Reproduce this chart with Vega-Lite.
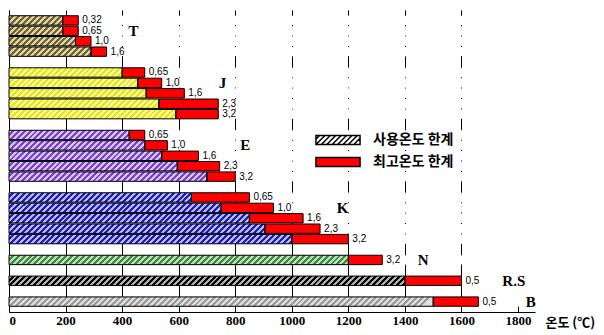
{
  "$schema": "https://vega.github.io/schema/vega-lite/v6.json",
  "width": 526,
  "height": 302,
  "autosize": {"type": "none"},
  "padding": {"left": 9, "top": 10, "right": 69, "bottom": 23},
  "background": "white",
  "config": {"view": {"stroke": null}},
  "data": {"values": [
    {"type":"T","row":"T-0.32","dia":"0,32","use":190,"max":245},
    {"type":"T","row":"T-0.65","dia":"0,65","use":190,"max":245},
    {"type":"T","row":"T-1.0","dia":"1,0","use":235,"max":290},
    {"type":"T","row":"T-1.6","dia":"1,6","use":290,"max":345},
    {"type":"J","row":"J-0.65","dia":"0,65","use":400,"max":480},
    {"type":"J","row":"J-1.0","dia":"1,0","use":455,"max":540},
    {"type":"J","row":"J-1.6","dia":"1,6","use":485,"max":620},
    {"type":"J","row":"J-2.3","dia":"2,3","use":530,"max":740},
    {"type":"J","row":"J-3.2","dia":"3,2","use":590,"max":740},
    {"type":"E","row":"E-0.65","dia":"0,65","use":425,"max":480},
    {"type":"E","row":"E-1.0","dia":"1,0","use":480,"max":560},
    {"type":"E","row":"E-1.6","dia":"1,6","use":540,"max":670},
    {"type":"E","row":"E-2.3","dia":"2,3","use":595,"max":745},
    {"type":"E","row":"E-3.2","dia":"3,2","use":700,"max":800},
    {"type":"K","row":"K-0.65","dia":"0,65","use":645,"max":850},
    {"type":"K","row":"K-1.0","dia":"1,0","use":750,"max":935},
    {"type":"K","row":"K-1.6","dia":"1,6","use":850,"max":1040},
    {"type":"K","row":"K-2.3","dia":"2,3","use":905,"max":1100},
    {"type":"K","row":"K-3.2","dia":"3,2","use":1000,"max":1200},
    {"type":"N","row":"N-3.2","dia":"3,2","use":1200,"max":1320},
    {"type":"R.S","row":"RS-0.5","dia":"0,5","use":1400,"max":1600},
    {"type":"B","row":"B-0.5","dia":"0,5","use":1500,"max":1660}
  ]},
  "encoding": {
    "y": {
      "field": "row", "type": "nominal",
      "scale": {
        "domain": ["T-0.32","T-0.65","T-1.0","T-1.6","gap1","J-0.65","J-1.0","J-1.6","J-2.3","J-3.2","gap2","E-0.65","E-1.0","E-1.6","E-2.3","E-3.2","gap3","K-0.65","K-1.0","K-1.6","K-2.3","K-3.2","gap4","N-3.2","gap5","RS-0.5","gap6","B-0.5"],
        "paddingInner": 0.1, "paddingOuter": 0.55
      },
      "axis": {"labels": false, "ticks": false, "title": null, "grid": false, "domain": true, "domainColor": "black", "domainWidth": 1}
    }
  },
  "layer": [
    {
      "mark": {"type": "bar", "fill": "white"},
      "encoding": {
        "x": {"datum": 0, "type": "quantitative"},
        "x2": {"datum": 1860}
      }
    },
    {
      "mark": {"type": "bar"},
      "encoding": {
        "x": {
          "field": "use", "type": "quantitative",
          "scale": {"domain": [0, 1860], "nice": false, "zero": true},
          "axis": {
            "title": "온도 (℃)",
            "values": [0,200,400,600,800,1000,1200,1400,1600,1800],
            "format": "d",
            "grid": true, "gridColor": "black", "gridWidth": 1,
            "gridOpacity": {"condition": {"test": "datum.value >= 1800", "value": 0}, "value": 1},
            "domainColor": "black", "domainWidth": 1,
            "ticks": true, "tickSize": -6, "tickColor": "black",
            "labelFont": "Liberation Serif", "labelFontWeight": "bold", "labelFontSize": 13, "labelColor": "black",
            "labelPadding": 8, "labelBaseline": "top",
            "titleFont": "Noto Sans CJK KR", "titleFontWeight": "bold", "titleFontSize": 13, "titleColor": "black",
            "titleX": 536, "titleY": 10, "titleAlign": "left", "titleBaseline": "middle", "titleAngle": 0
          }
        },
        "fill": {
          "field": "type", "type": "nominal",
          "scale": {"domain": ["T","J","E","K","N","R.S","B"], "range": ["#76641A","#E8E800","#7B3FD2","#1C1CC0","#3A8A3A","#000000","#9A9A9A"]},
          "legend": null
        }
      }
    },
    {
      "mark": {"type": "bar", "fill": {"gradient": "linear", "x1": 0, "y1": 0, "x2": 1, "y2": 0.0221, "stops": [
{"offset":0,"color":"#fff"},{"offset":0.007,"color":"#fff"},{"offset":0.007,"color":"#fff0"},{"offset":0.014,"color":"#fff0"},
{"offset":0.014,"color":"#fff"},{"offset":0.021,"color":"#fff"},{"offset":0.021,"color":"#fff0"},{"offset":0.028,"color":"#fff0"},
{"offset":0.028,"color":"#fff"},{"offset":0.035,"color":"#fff"},{"offset":0.035,"color":"#fff0"},{"offset":0.042,"color":"#fff0"},
{"offset":0.042,"color":"#fff"},{"offset":0.049,"color":"#fff"},{"offset":0.049,"color":"#fff0"},{"offset":0.056,"color":"#fff0"},
{"offset":0.056,"color":"#fff"},{"offset":0.063,"color":"#fff"},{"offset":0.063,"color":"#fff0"},{"offset":0.07,"color":"#fff0"},
{"offset":0.07,"color":"#fff"},{"offset":0.077,"color":"#fff"},{"offset":0.077,"color":"#fff0"},{"offset":0.084,"color":"#fff0"},
{"offset":0.084,"color":"#fff"},{"offset":0.091,"color":"#fff"},{"offset":0.091,"color":"#fff0"},{"offset":0.098,"color":"#fff0"},
{"offset":0.098,"color":"#fff"},{"offset":0.105,"color":"#fff"},{"offset":0.105,"color":"#fff0"},{"offset":0.112,"color":"#fff0"},
{"offset":0.112,"color":"#fff"},{"offset":0.119,"color":"#fff"},{"offset":0.119,"color":"#fff0"},{"offset":0.126,"color":"#fff0"},
{"offset":0.126,"color":"#fff"},{"offset":0.133,"color":"#fff"},{"offset":0.133,"color":"#fff0"},{"offset":0.14,"color":"#fff0"},
{"offset":0.14,"color":"#fff"},{"offset":0.147,"color":"#fff"},{"offset":0.147,"color":"#fff0"},{"offset":0.154,"color":"#fff0"},
{"offset":0.154,"color":"#fff"},{"offset":0.161,"color":"#fff"},{"offset":0.161,"color":"#fff0"},{"offset":0.168,"color":"#fff0"},
{"offset":0.168,"color":"#fff"},{"offset":0.175,"color":"#fff"},{"offset":0.175,"color":"#fff0"},{"offset":0.182,"color":"#fff0"},
{"offset":0.182,"color":"#fff"},{"offset":0.189,"color":"#fff"},{"offset":0.189,"color":"#fff0"},{"offset":0.196,"color":"#fff0"},
{"offset":0.196,"color":"#fff"},{"offset":0.203,"color":"#fff"},{"offset":0.203,"color":"#fff0"},{"offset":0.21,"color":"#fff0"},
{"offset":0.21,"color":"#fff"},{"offset":0.217,"color":"#fff"},{"offset":0.217,"color":"#fff0"},{"offset":0.224,"color":"#fff0"},
{"offset":0.224,"color":"#fff"},{"offset":0.231,"color":"#fff"},{"offset":0.231,"color":"#fff0"},{"offset":0.238,"color":"#fff0"},
{"offset":0.238,"color":"#fff"},{"offset":0.245,"color":"#fff"},{"offset":0.245,"color":"#fff0"},{"offset":0.252,"color":"#fff0"},
{"offset":0.252,"color":"#fff"},{"offset":0.259,"color":"#fff"},{"offset":0.259,"color":"#fff0"},{"offset":0.266,"color":"#fff0"},
{"offset":0.266,"color":"#fff"},{"offset":0.273,"color":"#fff"},{"offset":0.273,"color":"#fff0"},{"offset":0.28,"color":"#fff0"},
{"offset":0.28,"color":"#fff"},{"offset":0.287,"color":"#fff"},{"offset":0.287,"color":"#fff0"},{"offset":0.294,"color":"#fff0"},
{"offset":0.294,"color":"#fff"},{"offset":0.301,"color":"#fff"},{"offset":0.301,"color":"#fff0"},{"offset":0.308,"color":"#fff0"},
{"offset":0.308,"color":"#fff"},{"offset":0.315,"color":"#fff"},{"offset":0.315,"color":"#fff0"},{"offset":0.322,"color":"#fff0"},
{"offset":0.322,"color":"#fff"},{"offset":0.329,"color":"#fff"},{"offset":0.329,"color":"#fff0"},{"offset":0.336,"color":"#fff0"},
{"offset":0.336,"color":"#fff"},{"offset":0.343,"color":"#fff"},{"offset":0.343,"color":"#fff0"},{"offset":0.35,"color":"#fff0"},
{"offset":0.35,"color":"#fff"},{"offset":0.357,"color":"#fff"},{"offset":0.357,"color":"#fff0"},{"offset":0.364,"color":"#fff0"},
{"offset":0.364,"color":"#fff"},{"offset":0.371,"color":"#fff"},{"offset":0.371,"color":"#fff0"},{"offset":0.378,"color":"#fff0"},
{"offset":0.378,"color":"#fff"},{"offset":0.385,"color":"#fff"},{"offset":0.385,"color":"#fff0"},{"offset":0.392,"color":"#fff0"},
{"offset":0.392,"color":"#fff"},{"offset":0.399,"color":"#fff"},{"offset":0.399,"color":"#fff0"},{"offset":0.406,"color":"#fff0"},
{"offset":0.406,"color":"#fff"},{"offset":0.413,"color":"#fff"},{"offset":0.413,"color":"#fff0"},{"offset":0.42,"color":"#fff0"},
{"offset":0.42,"color":"#fff"},{"offset":0.427,"color":"#fff"},{"offset":0.427,"color":"#fff0"},{"offset":0.434,"color":"#fff0"},
{"offset":0.434,"color":"#fff"},{"offset":0.441,"color":"#fff"},{"offset":0.441,"color":"#fff0"},{"offset":0.448,"color":"#fff0"},
{"offset":0.448,"color":"#fff"},{"offset":0.455,"color":"#fff"},{"offset":0.455,"color":"#fff0"},{"offset":0.462,"color":"#fff0"},
{"offset":0.462,"color":"#fff"},{"offset":0.469,"color":"#fff"},{"offset":0.469,"color":"#fff0"},{"offset":0.476,"color":"#fff0"},
{"offset":0.476,"color":"#fff"},{"offset":0.483,"color":"#fff"},{"offset":0.483,"color":"#fff0"},{"offset":0.49,"color":"#fff0"},
{"offset":0.49,"color":"#fff"},{"offset":0.497,"color":"#fff"},{"offset":0.497,"color":"#fff0"},{"offset":0.504,"color":"#fff0"},
{"offset":0.504,"color":"#fff"},{"offset":0.511,"color":"#fff"},{"offset":0.511,"color":"#fff0"},{"offset":0.518,"color":"#fff0"},
{"offset":0.518,"color":"#fff"},{"offset":0.525,"color":"#fff"},{"offset":0.525,"color":"#fff0"},{"offset":0.532,"color":"#fff0"},
{"offset":0.532,"color":"#fff"},{"offset":0.539,"color":"#fff"},{"offset":0.539,"color":"#fff0"},{"offset":0.546,"color":"#fff0"},
{"offset":0.546,"color":"#fff"},{"offset":0.553,"color":"#fff"},{"offset":0.553,"color":"#fff0"},{"offset":0.56,"color":"#fff0"},
{"offset":0.56,"color":"#fff"},{"offset":0.567,"color":"#fff"},{"offset":0.567,"color":"#fff0"},{"offset":0.574,"color":"#fff0"},
{"offset":0.574,"color":"#fff"},{"offset":0.581,"color":"#fff"},{"offset":0.581,"color":"#fff0"},{"offset":0.588,"color":"#fff0"},
{"offset":0.588,"color":"#fff"},{"offset":0.595,"color":"#fff"},{"offset":0.595,"color":"#fff0"},{"offset":0.602,"color":"#fff0"},
{"offset":0.602,"color":"#fff"},{"offset":0.609,"color":"#fff"},{"offset":0.609,"color":"#fff0"},{"offset":0.616,"color":"#fff0"},
{"offset":0.616,"color":"#fff"},{"offset":0.623,"color":"#fff"},{"offset":0.623,"color":"#fff0"},{"offset":0.63,"color":"#fff0"},
{"offset":0.63,"color":"#fff"},{"offset":0.637,"color":"#fff"},{"offset":0.637,"color":"#fff0"},{"offset":0.644,"color":"#fff0"},
{"offset":0.644,"color":"#fff"},{"offset":0.651,"color":"#fff"},{"offset":0.651,"color":"#fff0"},{"offset":0.658,"color":"#fff0"},
{"offset":0.658,"color":"#fff"},{"offset":0.665,"color":"#fff"},{"offset":0.665,"color":"#fff0"},{"offset":0.672,"color":"#fff0"},
{"offset":0.672,"color":"#fff"},{"offset":0.679,"color":"#fff"},{"offset":0.679,"color":"#fff0"},{"offset":0.686,"color":"#fff0"},
{"offset":0.686,"color":"#fff"},{"offset":0.693,"color":"#fff"},{"offset":0.693,"color":"#fff0"},{"offset":0.7,"color":"#fff0"},
{"offset":0.7,"color":"#fff"},{"offset":0.707,"color":"#fff"},{"offset":0.707,"color":"#fff0"},{"offset":0.714,"color":"#fff0"},
{"offset":0.714,"color":"#fff"},{"offset":0.721,"color":"#fff"},{"offset":0.721,"color":"#fff0"},{"offset":0.728,"color":"#fff0"},
{"offset":0.728,"color":"#fff"},{"offset":0.735,"color":"#fff"},{"offset":0.735,"color":"#fff0"},{"offset":0.742,"color":"#fff0"},
{"offset":0.742,"color":"#fff"},{"offset":0.749,"color":"#fff"},{"offset":0.749,"color":"#fff0"},{"offset":0.756,"color":"#fff0"},
{"offset":0.756,"color":"#fff"},{"offset":0.763,"color":"#fff"},{"offset":0.763,"color":"#fff0"},{"offset":0.77,"color":"#fff0"},
{"offset":0.77,"color":"#fff"},{"offset":0.777,"color":"#fff"},{"offset":0.777,"color":"#fff0"},{"offset":0.784,"color":"#fff0"},
{"offset":0.784,"color":"#fff"},{"offset":0.791,"color":"#fff"},{"offset":0.791,"color":"#fff0"},{"offset":0.798,"color":"#fff0"},
{"offset":0.798,"color":"#fff"},{"offset":0.805,"color":"#fff"},{"offset":0.805,"color":"#fff0"},{"offset":0.812,"color":"#fff0"},
{"offset":0.812,"color":"#fff"},{"offset":0.819,"color":"#fff"},{"offset":0.819,"color":"#fff0"},{"offset":0.826,"color":"#fff0"},
{"offset":0.826,"color":"#fff"},{"offset":0.833,"color":"#fff"},{"offset":0.833,"color":"#fff0"},{"offset":0.84,"color":"#fff0"},
{"offset":0.84,"color":"#fff"},{"offset":0.847,"color":"#fff"},{"offset":0.847,"color":"#fff0"},{"offset":0.854,"color":"#fff0"},
{"offset":0.854,"color":"#fff"},{"offset":0.861,"color":"#fff"},{"offset":0.861,"color":"#fff0"},{"offset":0.868,"color":"#fff0"},
{"offset":0.868,"color":"#fff"},{"offset":0.875,"color":"#fff"},{"offset":0.875,"color":"#fff0"},{"offset":0.882,"color":"#fff0"},
{"offset":0.882,"color":"#fff"},{"offset":0.889,"color":"#fff"},{"offset":0.889,"color":"#fff0"},{"offset":0.896,"color":"#fff0"},
{"offset":0.896,"color":"#fff"},{"offset":0.903,"color":"#fff"},{"offset":0.903,"color":"#fff0"},{"offset":0.91,"color":"#fff0"},
{"offset":0.91,"color":"#fff"},{"offset":0.917,"color":"#fff"},{"offset":0.917,"color":"#fff0"},{"offset":0.924,"color":"#fff0"},
{"offset":0.924,"color":"#fff"},{"offset":0.931,"color":"#fff"},{"offset":0.931,"color":"#fff0"},{"offset":0.938,"color":"#fff0"},
{"offset":0.938,"color":"#fff"},{"offset":0.945,"color":"#fff"},{"offset":0.945,"color":"#fff0"},{"offset":0.952,"color":"#fff0"},
{"offset":0.952,"color":"#fff"},{"offset":0.959,"color":"#fff"},{"offset":0.959,"color":"#fff0"},{"offset":0.966,"color":"#fff0"},
{"offset":0.966,"color":"#fff"},{"offset":0.973,"color":"#fff"},{"offset":0.973,"color":"#fff0"},{"offset":0.98,"color":"#fff0"},
{"offset":0.98,"color":"#fff"},{"offset":0.987,"color":"#fff"},{"offset":0.987,"color":"#fff0"},{"offset":0.994,"color":"#fff0"},
{"offset":0.994,"color":"#fff"},{"offset":1,"color":"#fff"}
      ]}},
      "encoding": {
        "x": {"datum": 0, "type": "quantitative"},
        "x2": {"datum": 1500},
        "opacity": {
          "field": "type", "type": "nominal",
          "scale": {"domain": ["T","J","E","K","N","R.S","B"], "range": [0.72, 0.68, 0.75, 0.9, 0.9, 1, 1]},
          "legend": null
        }
      }
    },
    {
      "mark": {"type": "bar", "stroke": "black", "strokeWidth": 1},
      "encoding": {
        "x": {"field": "use", "type": "quantitative"},
        "x2": {"field": "max"},
        "fill": {
          "datum": "최고온도 한계", "type": "nominal",
          "scale": {"domain": ["사용온도 한계", "최고온도 한계"], "range": ["#ffffff", "#ff0000"]},
          "legend": {
            "title": null, "orient": "none", "legendX": 322, "legendY": 123,
            "padding": 0, "symbolSize": 81,
            "symbolType": "M-4.9,-1L4.9,-1L4.9,1L-4.9,1Z",
            "symbolStrokeColor": "black", "symbolStrokeWidth": 1.5, "symbolOpacity": 1,
            "labelFont": "Noto Sans CJK KR", "labelFontWeight": "bold", "labelFontSize": 14, "labelColor": "black",
            "labelOffset": 28, "rowPadding": 6,
            "encode": {
              "symbols": {
                "update": {
                  "shape": [
                    {"test": "datum.value === '최고온도 한계'", "value": "M-4.9,-1L4.9,-1L4.9,1L-4.9,1Z"},
                    {"value": "M-4.9,-1L4.9,-1L4.9,1L-4.9,1ZM-4.9,-0.2L-4.1,-1M-4.9,1L-2.9,-1M-3.7,1L-1.7,-1M-2.5,1L-0.5,-1M-1.3,1L0.7,-1M-0.1,1L1.9,-1M1.1,1L3.1,-1M2.3,1L4.3,-1M3.5,1L4.9,-0.4"}
                  ],
                  "stroke": {"value": "black"},
                  "strokeWidth": {"value": 1.5}
                }
              }
            }
          }
        }
      }
    },
    {
      "mark": {"type": "bar", "fill": "transparent", "stroke": "black", "strokeWidth": 1},
      "encoding": {
        "x": {"field": "use", "type": "quantitative"}
      }
    },
    {
      "mark": {"type": "text", "align": "left", "baseline": "middle", "dx": 4, "font": "Liberation Sans", "fontSize": 10, "color": "black"},
      "encoding": {
        "x": {"field": "max", "type": "quantitative"},
        "text": {"field": "dia"}
      }
    },
    {
      "data": {"values": [
        {"name": "T", "x": 440, "row": "T-0.65"},
        {"name": "J", "x": 755, "row": "J-1.0"},
        {"name": "E", "x": 835, "row": "E-1.0"},
        {"name": "K", "x": 1180, "row": "K-1.0"},
        {"name": "N", "x": 1465, "row": "N-3.2"},
        {"name": "R.S", "x": 1785, "row": "RS-0.5"},
        {"name": "B", "x": 1845, "row": "B-0.5"}
      ]},
      "mark": {"type": "text", "align": "center", "baseline": "middle", "font": "Liberation Serif", "fontWeight": "bold", "fontSize": 15, "color": "black"},
      "encoding": {
        "x": {"field": "x", "type": "quantitative"},
        "text": {"field": "name"}
      }
    }
  ],
  "resolve": {
    "scale": {"fill": "independent", "opacity": "independent"},
    "legend": {"fill": "independent", "opacity": "independent"}
  }
}
